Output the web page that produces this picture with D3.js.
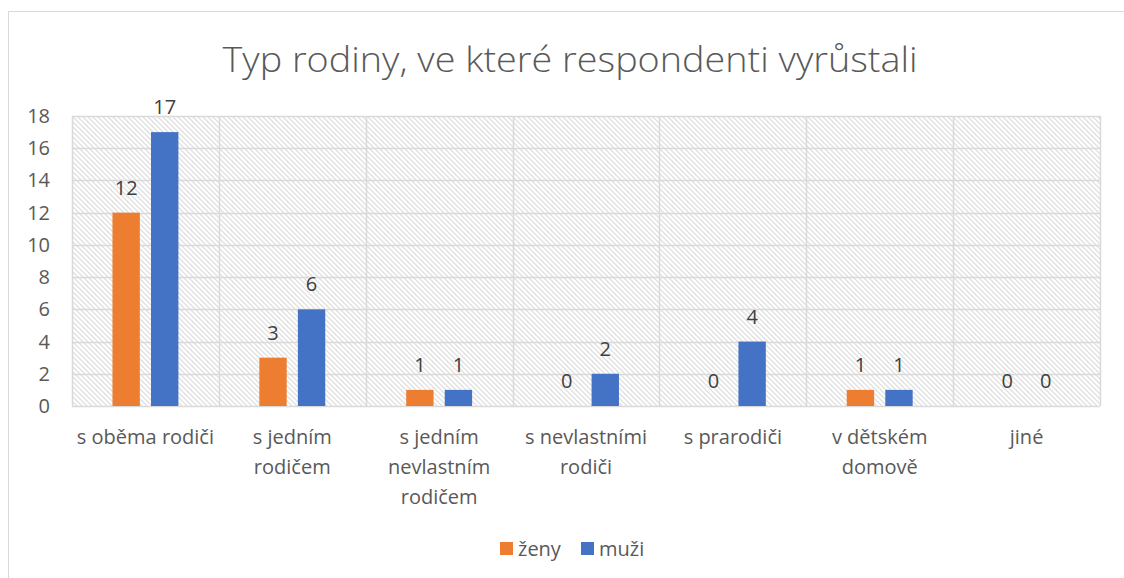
<!DOCTYPE html>
<html>
<head>
<meta charset="utf-8">
<script src="https://cdn.jsdelivr.net/npm/d3@7"></script>
<style>
  body { margin: 0; background: #fff; }
  svg { display: block; font-family: "Open Sans", Lato, sans-serif; }
</style>
</head>
<body>
<div id="chart"></div>
<script>
// data
const categories = [
    ["s oběma rodiči"],
    ["s jedním", "rodičem"],
    ["s jedním", "nevlastním", "rodičem"],
    ["s nevlastními", "rodiči"],
    ["s prarodiči"],
    ["v dětském", "domově"],
    ["jiné"]
];
const seriesNames = ["ženy", "muži"];
const zeny = [12, 3, 1, 0, 0, 1, 0];
const muzi = [17, 6, 1, 2, 4, 1, 0];
const yTicks = [0, 2, 4, 6, 8, 10, 12, 14, 16, 18];
const colors = ["#ED7D31", "#4472C4"];

const width = 1124, height = 578;
const margin = {top: 116, right: 24, bottom: 172, left: 72};
const plotW = width - margin.left - margin.right;
const plotH = height - margin.top - margin.bottom;
const textColor = "#595959";
const gridColor = "#d9d9d9";
const fs = 20;

const svg = d3.select("#chart").append("svg")
    .attr("width", width)
    .attr("height", height);

// hatched background
const defs = svg.append("defs");
const pat = defs.append("pattern")
    .attr("id", "hatch")
    .attr("patternUnits", "userSpaceOnUse")
    .attr("width", 5)
    .attr("height", 5);
pat.append("rect").attr("width", 5).attr("height", 5).attr("fill", "#fff");
pat.append("path")
    .attr("d", "M-1,-1 L6,6 M-1,4 L1,6 M4,-1 L6,1")
    .attr("stroke", "#e0e0e0")
    .attr("stroke-width", 1.3);

// outer frame
svg.append("rect")
    .attr("x", 8.5).attr("y", 11.5)
    .attr("width", width).attr("height", height)
    .attr("fill", "none")
    .attr("stroke", "#d9d9d9");

// title
svg.append("text")
    .attr("x", 570).attr("y", 72)
    .attr("text-anchor", "middle")
    .attr("font-size", 34)
    .attr("font-weight", 300)
    .attr("fill", textColor)
    .attr("textLength", 695)
    .attr("lengthAdjust", "spacingAndGlyphs")
    .text("Typ rodiny, ve které respondenti vyrůstali");

const g = svg.append("g").attr("transform", `translate(${margin.left},${margin.top})`);

const x0 = d3.scaleBand().domain(d3.range(categories.length)).range([0, plotW]).padding(0);
const x1 = d3.scaleBand().domain(seriesNames).range([0, x0.bandwidth()]).paddingInner(0.29).paddingOuter(1.05);
const y = d3.scaleLinear().domain([0, 18]).range([plotH, 0]);

g.append("rect")
    .attr("width", plotW).attr("height", plotH)
    .attr("fill", "url(#hatch)");

// horizontal grid
g.append("g")
    .selectAll("line")
    .data(yTicks)
    .join("line")
    .attr("x1", 0).attr("x2", plotW)
    .attr("y1", d => Math.round(y(d)) + 0.5)
    .attr("y2", d => Math.round(y(d)) + 0.5)
    .attr("stroke", gridColor)
    .attr("stroke-width", 1.5);

// vertical grid at category boundaries
g.append("g")
    .selectAll("line")
    .data(d3.range(categories.length + 1))
    .join("line")
    .attr("x1", i => Math.round(i * x0.step()) + 0.5)
    .attr("x2", i => Math.round(i * x0.step()) + 0.5)
    .attr("y1", 0).attr("y2", plotH)
    .attr("stroke", gridColor)
    .attr("stroke-width", 1.5);

// y axis labels
g.append("g")
    .selectAll("text")
    .data(yTicks)
    .join("text")
    .attr("x", -22)
    .attr("y", d => y(d))
    .attr("dy", "0.35em")
    .attr("text-anchor", "end")
    .attr("font-size", fs)
    .attr("fill", textColor)
    .text(d => d);

// bars
const series = [zeny, muzi];
const groups = g.append("g")
    .selectAll("g")
    .data(categories.map((c, i) => i))
    .join("g")
    .attr("transform", i => `translate(${x0(i)},0)`);

groups.selectAll("rect")
    .data(i => series.map((s, k) => ({k, v: s[i]})))
    .join("rect")
    .attr("x", d => x1(seriesNames[d.k]))
    .attr("width", x1.bandwidth())
    .attr("y", d => y(d.v))
    .attr("height", d => plotH - y(d.v))
    .attr("fill", d => colors[d.k]);

groups.selectAll("text")
    .data(i => series.map((s, k) => ({k, v: s[i]})))
    .join("text")
    .attr("x", d => x1(seriesNames[d.k]) + x1.bandwidth() / 2)
    .attr("y", d => y(d.v) - 18)
    .attr("text-anchor", "middle")
    .attr("font-size", fs)
    .attr("fill", "#404040")
    .text(d => d.v);

// category labels
const catG = g.append("g");
categories.forEach((lines, i) => {
    const t = catG.append("text")
        .attr("x", x0(i) + x0.bandwidth() / 2)
        .attr("y", plotH + 38)
        .attr("text-anchor", "middle")
        .attr("font-size", fs)
        .attr("fill", textColor);
    lines.forEach((l, j) => {
        t.append("tspan")
            .attr("x", x0(i) + x0.bandwidth() / 2)
            .attr("dy", j === 0 ? 0 : 30)
            .text(l);
    });
});

// legend
const legend = svg.append("g").attr("transform", "translate(500,542)");
const items = [{n: seriesNames[0], c: colors[0], x: 0}, {n: seriesNames[1], c: colors[1], x: 81}];
items.forEach(it => {
    legend.append("rect")
        .attr("x", it.x).attr("y", 0)
        .attr("width", 13).attr("height", 13)
        .attr("fill", it.c);
    legend.append("text")
        .attr("x", it.x + 18).attr("y", 6.5)
        .attr("dy", "0.35em")
        .attr("font-size", fs)
        .attr("fill", textColor)
        .text(it.n);
});
</script>
</body>
</html>
